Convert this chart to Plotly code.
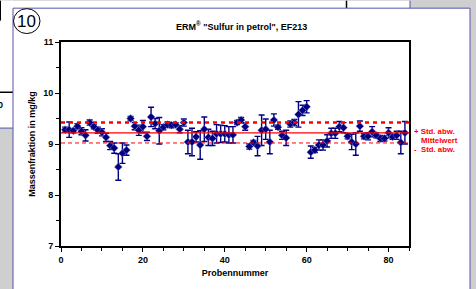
import plotly.graph_objects as go

sample_no = list(range(1, 85))
mass_fraction = [9.28, 9.28, 9.26, 9.35, 9.25, 9.17, 9.42, 9.34, 9.27, 9.23,
                 9.13, 8.97, 8.92, 8.55, 8.82, 8.88, 9.50, 9.35, 9.27, 9.34,
                 9.15, 9.53, 9.40, 9.26, 9.33, 9.38, 9.37, 9.38, 9.29, 9.42,
                 9.04, 9.04, 9.14, 8.98, 9.29, 9.13, 9.11, 9.20, 9.20, 9.20,
                 9.18, 9.18, 9.42, 9.47, 9.34, 8.95, 9.03, 8.96, 9.27, 9.29,
                 9.04, 9.47, 9.33, 9.17, 9.12, 9.39, 9.42, 9.58, 9.66, 9.73,
                 8.84, 8.88, 8.98, 8.98, 9.06, 9.21, 9.21, 9.34, 9.32, 9.15,
                 9.04, 9.00, 9.35, 9.15, 9.15, 9.24, 9.17, 9.11, 9.11, 9.22,
                 9.14, 9.17, 9.03, 9.22]
uncertainty = [0.05, 0.15, 0.04, 0.05, 0.07, 0.11, 0.05, 0.04, 0.06, 0.07,
               0.08, 0.08, 0.10, 0.26, 0.20, 0.10, 0.04, 0.07, 0.10, 0.12,
               0.08, 0.19, 0.10, 0.26, 0.05, 0.05, 0.05, 0.04, 0.07, 0.07,
               0.23, 0.27, 0.10, 0.28, 0.24, 0.16, 0.14, 0.18, 0.17, 0.16,
               0.16, 0.16, 0.04, 0.05, 0.07, 0.05, 0.04, 0.19, 0.30, 0.20,
               0.23, 0.12, 0.04, 0.08, 0.15, 0.06, 0.06, 0.25, 0.10, 0.12,
               0.12, 0.05, 0.10, 0.10, 0.12, 0.10, 0.10, 0.10, 0.10, 0.05,
               0.15, 0.22, 0.10, 0.05, 0.07, 0.10, 0.05, 0.06, 0.05, 0.10,
               0.05, 0.08, 0.22, 0.22]

mean_value = 9.22
std_plus = 9.42
std_minus = 9.02

x_ticks = [0, 20, 40, 60, 80]
y_ticks = [7, 8, 9, 10, 11]

FONT = "Liberation Sans, Arial, sans-serif"
W, H = 476, 289
L, R, T, B = 61, 67, 41.5, 42.5
PW, PH = W - L - R, H - T - B


def px(x):
    return (x - L) / PW


def py(y):
    return (H - B - y) / PH


fig = go.Figure()

fig.add_trace(go.Scatter(
    x=sample_no, y=mass_fraction, mode="markers",
    marker=dict(symbol="diamond", size=6, color="#000080",
                line=dict(color="#7a7ac8", width=0.5)),
    error_y=dict(type="data", array=uncertainty, visible=True,
                 color="#000080", thickness=1.4, width=3),
    showlegend=False, hoverinfo="skip",
))

fig.add_hline(y=std_plus, line=dict(color="#ff0000", width=2.5, dash="4px,4px"))
fig.add_hline(y=mean_value, line=dict(color="#ff0000", width=1.3))
fig.add_hline(y=std_minus, line=dict(color="#ff0000", width=1, dash="4px,3px"))

shapes = [
    dict(type="rect", x0=px(0), x1=px(410), y0=py(0), y1=py(8),
         fillcolor="white", line=dict(width=0)),
    dict(type="rect", x0=px(0), x1=px(13), y0=py(0), y1=py(128),
         fillcolor="white", line=dict(width=0)),
    dict(type="line", x0=px(410), x1=px(410), y0=py(0), y1=py(8),
         line=dict(color="#5555aa", width=1)),
    dict(type="line", x0=px(346.5), x1=px(346.5), y0=py(0), y1=py(8),
         line=dict(color="black", width=1.5)),
    dict(type="line", x0=px(0), x1=px(13), y0=py(92), y1=py(92),
         line=dict(color="black", width=1.5)),
    dict(type="line", x0=px(0), x1=px(13), y0=py(128), y1=py(128),
         line=dict(color="#5555aa", width=1)),
    dict(type="line", x0=px(0.5), x1=px(0.5), y0=py(0), y1=py(20),
         line=dict(color="black", width=1)),
    dict(type="rect", x0=px(13), x1=px(470), y0=py(7.5), y1=py(295),
         fillcolor="white", line=dict(color="#5555aa", width=1)),
    dict(type="circle", x0=px(13.5), x1=px(40), y0=py(8), y1=py(33),
         fillcolor="white", line=dict(color="black", width=1)),
]
for s in shapes:
    s.update(xref="paper", yref="paper", layer="below")
    fig.add_shape(**s)

ann = [
    dict(x=px(26.8), y=py(20.5), text="10", font=dict(size=17, color="black"),
         xanchor="center", yanchor="middle"),
    dict(x=px(242), y=py(25), text="<b>ERM<sup>®</sup> \"Sulfur in petrol\", EF213</b>",
         font=dict(size=9, color="black"), xanchor="center", yanchor="middle"),
    dict(x=px(4.5), y=py(105), text="<b>0</b>", font=dict(size=9, color="black"),
         xanchor="right", yanchor="middle"),
    dict(x=px(412), y=py(131.5), text="<b>+ Std. abw.</b>",
         font=dict(size=7.8, color="#ff0000"), xanchor="left", yanchor="middle"),
    dict(x=px(418.5), y=py(140.5), text="<b>Mittelwert</b>",
         font=dict(size=7.8, color="#ff0000"), xanchor="left", yanchor="middle"),
    dict(x=px(412), y=py(150), text="<b>-  Std. abw.</b>",
         font=dict(size=7.8, color="#ff0000"), xanchor="left", yanchor="middle"),
]
for a in ann:
    a.update(xref="paper", yref="paper", showarrow=False)
    fig.add_annotation(**a)

axis_common = dict(
    showline=True, linecolor="black", linewidth=1.8, mirror=True,
    ticks="outside", ticklen=4, tickwidth=1.3, tickcolor="black",
    showgrid=False, zeroline=False,
    tickfont=dict(size=9, color="black", family=FONT),
)

fig.update_xaxes(
    range=[0, 85], tickvals=x_ticks, ticktext=[f"<b>{v}</b>" for v in x_ticks],
    minor=dict(dtick=5, tick0=0, ticks="outside", ticklen=3, tickwidth=1.2,
               tickcolor="black", showgrid=False),
    title=dict(text="<b>Probennummer</b>", font=dict(size=9, color="black"),
               standoff=6),
    **axis_common,
)
fig.update_yaxes(
    range=[7, 11], tickvals=y_ticks, ticktext=[f"<b>{v}</b>" for v in y_ticks],
    minor=dict(dtick=0.5, tick0=7, ticks="outside", ticklen=3, tickwidth=1.2,
               tickcolor="black", showgrid=False),
    title=dict(text="<b>Massenfraktion in mg/kg</b>", font=dict(size=9, color="black"),
               standoff=6),
    **axis_common,
)

fig.update_layout(
    width=W, height=H,
    margin=dict(l=L, r=R, t=T, b=B, autoexpand=False),
    paper_bgcolor="#cfcfcf", plot_bgcolor="rgba(0,0,0,0)",
    font=dict(family=FONT, color="black"),
    showlegend=False,
)

fig.write_html("out.html", config={"displayModeBar": False},
               post_script="document.body.style.margin='0';")
